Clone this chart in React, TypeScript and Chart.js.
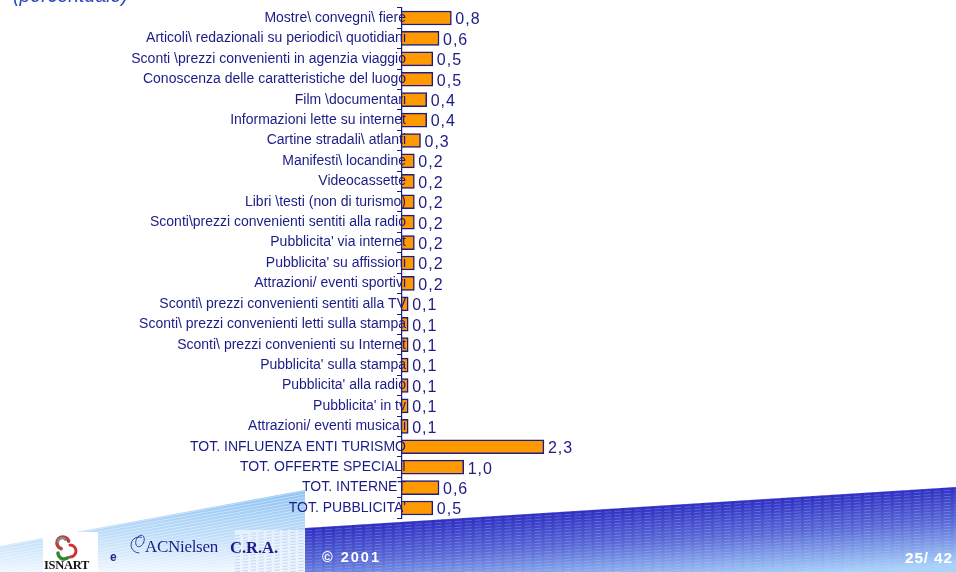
import React, { useEffect, useRef } from "react";
import { Chart, registerables } from "chart.js";
Chart.register(...registerables);

const categories: string[] = [
  "Mostre\\ convegni\\ fiere",
  "Articoli\\ redazionali su periodici\\ quotidiani",
  "Sconti \\prezzi convenienti in agenzia viaggio",
  "Conoscenza delle caratteristiche del luogo",
  "Film \\documentari",
  "Informazioni lette su internet",
  "Cartine stradali\\ atlanti",
  "Manifesti\\ locandine",
  "Videocassette",
  "Libri \\testi (non di turismo)",
  "Sconti\\prezzi convenienti sentiti alla radio",
  "Pubblicita' via internet",
  "Pubblicita' su affissioni",
  "Attrazioni/ eventi sportivi",
  "Sconti\\ prezzi convenienti sentiti alla TV",
  "Sconti\\ prezzi convenienti letti sulla stampa",
  "Sconti\\ prezzi convenienti su Internet",
  "Pubblicita' sulla stampa",
  "Pubblicita' alla radio",
  "Pubblicita' in tv",
  "Attrazioni/ eventi musicali",
  "TOT. INFLUENZA ENTI TURISMO",
  "TOT. OFFERTE SPECIALI",
  "TOT. INTERNET",
  "TOT. PUBBLICITA'",
];

const values: number[] = [
  0.8, 0.6, 0.5, 0.5, 0.4, 0.4, 0.3, 0.2, 0.2, 0.2, 0.2, 0.2, 0.2, 0.2,
  0.1, 0.1, 0.1, 0.1, 0.1, 0.1, 0.1, 2.3, 1.0, 0.6, 0.5,
];

const titleText = "(percentuale)";
const copyrightText = "© 2001";
const pageText = "25/ 42";

const NAVY = "#1c1c86";

const footerPlugin = {
  id: "footerBg",
  beforeDraw(chart: any) {
    const ctx: CanvasRenderingContext2D = chart.ctx;
    ctx.save();
    // left light wedge
    ctx.beginPath();
    ctx.moveTo(0, 546);
    ctx.lineTo(305, 490);
    ctx.lineTo(305, 572);
    ctx.lineTo(0, 572);
    ctx.closePath();
    const g1 = ctx.createLinearGradient(0, 492, 0, 572);
    g1.addColorStop(0, "#8fc2f2");
    g1.addColorStop(0.55, "#c0defa");
    g1.addColorStop(1, "#eef6ff");
    ctx.fillStyle = g1;
    ctx.fill();
    ctx.save();
    ctx.clip();
    ctx.strokeStyle = "rgba(255,255,255,0.4)";
    ctx.lineWidth = 1;
    for (let k = -80; k < 140; k += 3) {
      ctx.beginPath();
      ctx.moveTo(0, 546 + k);
      ctx.lineTo(305, 490 + k);
      ctx.stroke();
    }
    // checker area
    ctx.fillStyle = "rgba(238,244,253,0.8)";
    ctx.fillRect(235, 530, 70, 42);
    ctx.strokeStyle = "rgba(160,200,244,0.6)";
    ctx.setLineDash([5, 3]);
    for (let y = 532; y < 580; y += 3) {
      ctx.beginPath();
      ctx.moveTo(235, y + 4);
      ctx.lineTo(305, y - 4);
      ctx.stroke();
    }
    ctx.setLineDash([]);
    ctx.restore();

    // dark blue region
    ctx.beginPath();
    ctx.moveTo(305, 528);
    ctx.lineTo(956, 487);
    ctx.lineTo(956, 572);
    ctx.lineTo(305, 572);
    ctx.closePath();
    const g2 = ctx.createLinearGradient(630, 507, 635, 585);
    g2.addColorStop(0, "#2e2ec2");
    g2.addColorStop(0.45, "#5a6ad6");
    g2.addColorStop(1, "#a8d2fa");
    ctx.fillStyle = g2;
    ctx.fill();
    ctx.save();
    ctx.clip();
    ctx.strokeStyle = "rgba(200,215,255,0.28)";
    ctx.lineWidth = 1;
    ctx.setLineDash([7, 3]);
    for (let k = 0; k < 100; k += 3) {
      ctx.beginPath();
      ctx.moveTo(305, 528 + k);
      ctx.lineTo(956, 487 + k);
      ctx.stroke();
    }
    ctx.setLineDash([]);
    ctx.restore();

    // ISNART logo box
    ctx.fillStyle = "#ffffff";
    ctx.fillRect(43, 532, 55, 40);
    ctx.lineCap = "round";
    ctx.lineWidth = 3.5;
    ctx.strokeStyle = "#b5423a";
    ctx.beginPath();
    ctx.arc(63, 543, 6, Math.PI * 0.6, Math.PI * 1.9);
    ctx.stroke();
    ctx.strokeStyle = "#8a8a8a";
    ctx.lineWidth = 2.5;
    ctx.beginPath();
    ctx.arc(62, 542, 4, Math.PI * 1.0, Math.PI * 1.8);
    ctx.stroke();
    ctx.strokeStyle = "#d03030";
    ctx.lineWidth = 3;
    ctx.beginPath();
    ctx.arc(70, 551, 6, Math.PI * 1.5, Math.PI * 0.5);
    ctx.stroke();
    ctx.strokeStyle = "#2e8a2e";
    ctx.lineWidth = 3.5;
    ctx.beginPath();
    ctx.arc(64, 553, 6, Math.PI * 0.3, Math.PI * 1.0);
    ctx.stroke();

    // globe doodle of ACNielsen
    ctx.strokeStyle = NAVY;
    ctx.lineWidth = 0.8;
    ctx.beginPath();
    ctx.arc(139, 545, 8, Math.PI * 0.5, Math.PI * 1.6);
    ctx.stroke();
    ctx.beginPath();
    ctx.ellipse(140, 541, 4, 6, 0.4, 0, Math.PI * 2);
    ctx.stroke();
    ctx.restore();
  },
};

const valueLabelPlugin = {
  id: "valueLabels",
  afterDatasetsDraw(chart: any) {
    const ctx: CanvasRenderingContext2D = chart.ctx;
    const meta = chart.getDatasetMeta(0);
    ctx.save();
    ctx.font = "16px 'Liberation Sans', Arial, sans-serif";
    (ctx as any).letterSpacing = "1px";
    ctx.fillStyle = NAVY;
    ctx.textAlign = "left";
    ctx.textBaseline = "middle";
    meta.data.forEach((el: any, i: number) => {
      const v = values[i];
      const txt = v.toFixed(1).replace(".", ",");
      ctx.fillText(txt, el.x + 4, el.y + 2);
    });
    ctx.restore();
  },
};

export default function App() {
  const ref = useRef<HTMLCanvasElement | null>(null);
  useEffect(() => {
    if (!ref.current) return;
    const chart = new Chart(ref.current, {
      type: "bar",
      data: {
        labels: categories,
        datasets: [
          {
            data: values,
            backgroundColor: "#ff9900",
            borderColor: NAVY,
            borderWidth: 1.5,
            barThickness: 14,
          },
        ],
      },
      options: {
        indexAxis: "y",
        animation: false,
        responsive: false,
        maintainAspectRatio: false,
        layout: { padding: { left: 0, right: 245.5, top: 7.8, bottom: 53.8 } },
        plugins: {
          legend: { display: false },
          tooltip: { enabled: false },
        },
        scales: {
          x: { display: false, min: 0, max: 5 },
          y: {
            afterFit: (s: any) => {
              s.width = 402;
              // let the labels run slightly past the axis line, as in the original
              s._computeLabelArea = () => undefined;
            },
            border: { display: true, color: NAVY, width: 1.2, z: 1 },
            grid: {
              display: true,
              drawOnChartArea: false,
              drawTicks: true,
              tickLength: 5,
              color: NAVY,
              offset: true,
            },
            ticks: {
              z: 1,
              padding: -9,
              color: NAVY,
              autoSkip: false,
              font: { family: "'Liberation Sans', Arial, sans-serif", size: 14 },
            },
          },
        },
      },
      plugins: [footerPlugin, valueLabelPlugin],
    });
    return () => chart.destroy();
  }, []);

  const base: React.CSSProperties = {
    position: "absolute",
    whiteSpace: "nowrap",
    fontFamily: "'Liberation Sans', Arial, sans-serif",
    lineHeight: 1,
  };

  return (
    <div style={{ position: "fixed", left: 0, top: 0, width: 956, height: 572, overflow: "hidden", background: "#fff" }}>
      <canvas ref={ref} width={956} height={572} style={{ position: "absolute", left: 0, top: 0, width: 956, height: 572 }} />
      <div style={{ ...base, left: 13, top: -14, fontSize: 19.5, fontStyle: "italic", color: "#2a48c0" }}>{titleText}</div>
      <div style={{ ...base, left: 44, top: 559, fontSize: 12.5, fontWeight: "bold", fontFamily: "'Liberation Serif', serif", color: "#111", letterSpacing: -0.3 }}>ISNART</div>
      <div style={{ ...base, left: 110, top: 551, fontSize: 12, fontWeight: "bold", color: "#1f2a8a" }}>e</div>
      <div style={{ ...base, left: 145, top: 538, fontSize: 17, fontFamily: "'Liberation Serif', serif", color: NAVY, letterSpacing: -0.3 }}>ACNielsen</div>
      <div style={{ ...base, left: 230, top: 540, fontSize: 16.5, fontWeight: "bold", fontFamily: "'Liberation Serif', serif", color: NAVY }}>C.R.A.</div>
      <div style={{ ...base, left: 322, top: 550, fontSize: 14.5, fontWeight: "bold", color: "#ffffff", letterSpacing: 2 }}>{copyrightText}</div>
      <div style={{ ...base, left: 905, top: 550, fontSize: 15.5, fontWeight: "bold", color: "#ffffff", letterSpacing: 0.8 }}>{pageText}</div>
    </div>
  );
}
